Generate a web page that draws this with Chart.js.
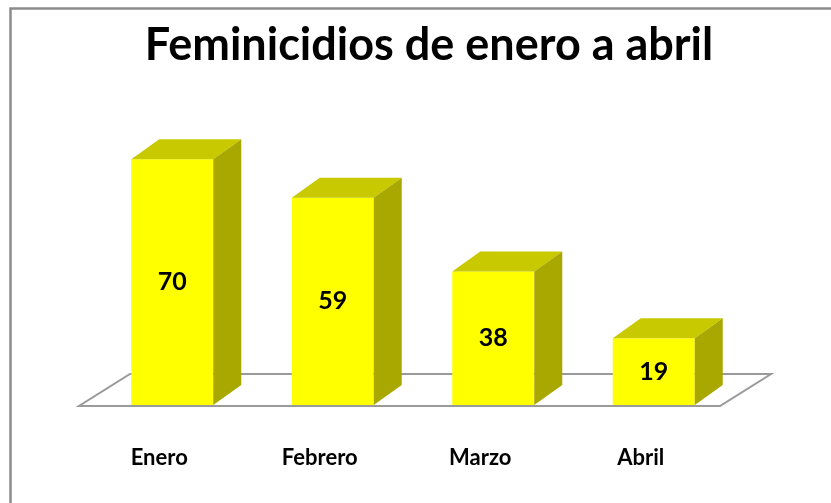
<!DOCTYPE html>
<html lang="es">
<head>
    <meta charset="UTF-8">
    <title>Feminicidios de enero a abril</title>
    <script src="https://cdn.jsdelivr.net/npm/chart.js"></script>
    <style>
        body { margin: 0; background: #ffffff; }
        canvas { display: block; }
    </style>
</head>
<body>
<canvas id="feminicidiosChart" width="831" height="503"></canvas>
<script>
    // Data
    const months = ['Enero', 'Febrero', 'Marzo', 'Abril'];
    const cases = [70, 59, 38, 19];
    const chartTitle = 'Feminicidios de enero a abril';

    const FONT = 'Lato, "Open Sans", sans-serif';
    const DX = 28, DY = -20;        // bar depth
    const FDX = 51, FDY = -32;      // floor depth

    function poly(ctx, pts, fill) {
        ctx.beginPath();
        ctx.moveTo(pts[0][0], pts[0][1]);
        for (let i = 1; i < pts.length; i++) ctx.lineTo(pts[i][0], pts[i][1]);
        ctx.closePath();
        ctx.fillStyle = fill;
        ctx.fill();
    }

    const bar3d = {
        id: 'bar3d',
        beforeDraw(chart) {
            const ctx = chart.ctx;
            ctx.save();
            ctx.fillStyle = '#ffffff';
            ctx.fillRect(0, 0, chart.width, chart.height);
            // outer border
            ctx.strokeStyle = '#8c8c8c';
            ctx.lineWidth = 2.5;
            ctx.strokeRect(10.5, 8.5, 900, 600);
            // title
            ctx.fillStyle = '#000000';
            ctx.font = 'bold 45px ' + FONT;
            ctx.textAlign = 'center';
            ctx.textBaseline = 'middle';
            ctx.fillText(chartTitle, 429, 45);
            ctx.restore();
        },
        beforeDatasetsDraw(chart) {
            const ctx = chart.ctx;
            const a = chart.chartArea;
            const y0 = chart.scales.y.getPixelForValue(0) + 1;
            const l = a.left - 13, r = a.right - 14;
            ctx.save();
            ctx.beginPath();
            ctx.moveTo(l, y0);
            ctx.lineTo(r, y0);
            ctx.lineTo(r + FDX, y0 + FDY);
            ctx.lineTo(l + FDX, y0 + FDY);
            ctx.closePath();
            ctx.fillStyle = '#ffffff';
            ctx.fill();
            ctx.strokeStyle = '#9a9a9a';
            ctx.lineWidth = 2;
            ctx.stroke();
            ctx.restore();
        },
        afterDatasetsDraw(chart) {
            const ctx = chart.ctx;
            const meta = chart.getDatasetMeta(0);
            ctx.save();
            meta.data.forEach((bar, i) => {
                const p = bar.getProps(['x', 'y', 'base', 'width'], true);
                const left = p.x - p.width / 2, right = p.x + p.width / 2;
                poly(ctx, [[left, p.y], [left + DX, p.y + DY], [right + DX, p.y + DY], [right, p.y]], '#c9c900');
                poly(ctx, [[right, p.y], [right + DX, p.y + DY], [right + DX, p.base + DY], [right, p.base]], '#a8a800');
                // value label
                ctx.fillStyle = '#000000';
                ctx.font = 'bold 25px ' + FONT;
                ctx.textAlign = 'center';
                ctx.textBaseline = 'middle';
                ctx.fillText(String(cases[i]), p.x, (p.y + p.base) / 2);
                // category label
                ctx.font = 'bold 22px ' + FONT;
                ctx.fillText(months[i], p.x - 13, 458);
            });
            ctx.restore();
        }
    };

    new Chart(document.getElementById('feminicidiosChart').getContext('2d'), {
        type: 'bar',
        data: {
            labels: months,
            datasets: [{
                data: cases,
                backgroundColor: '#ffff00',
                borderWidth: 0,
                barPercentage: 1,
                categoryPercentage: 0.511
            }]
        },
        options: {
            responsive: false,
            animation: false,
            layout: { padding: { left: 92, right: 97, top: 124, bottom: 98 } },
            plugins: {
                legend: { display: false },
                tooltip: { enabled: false }
            },
            scales: {
                x: { display: false },
                y: { display: false, min: 0, max: 80 }
            }
        },
        plugins: [bar3d]
    });
</script>
</body>
</html>
